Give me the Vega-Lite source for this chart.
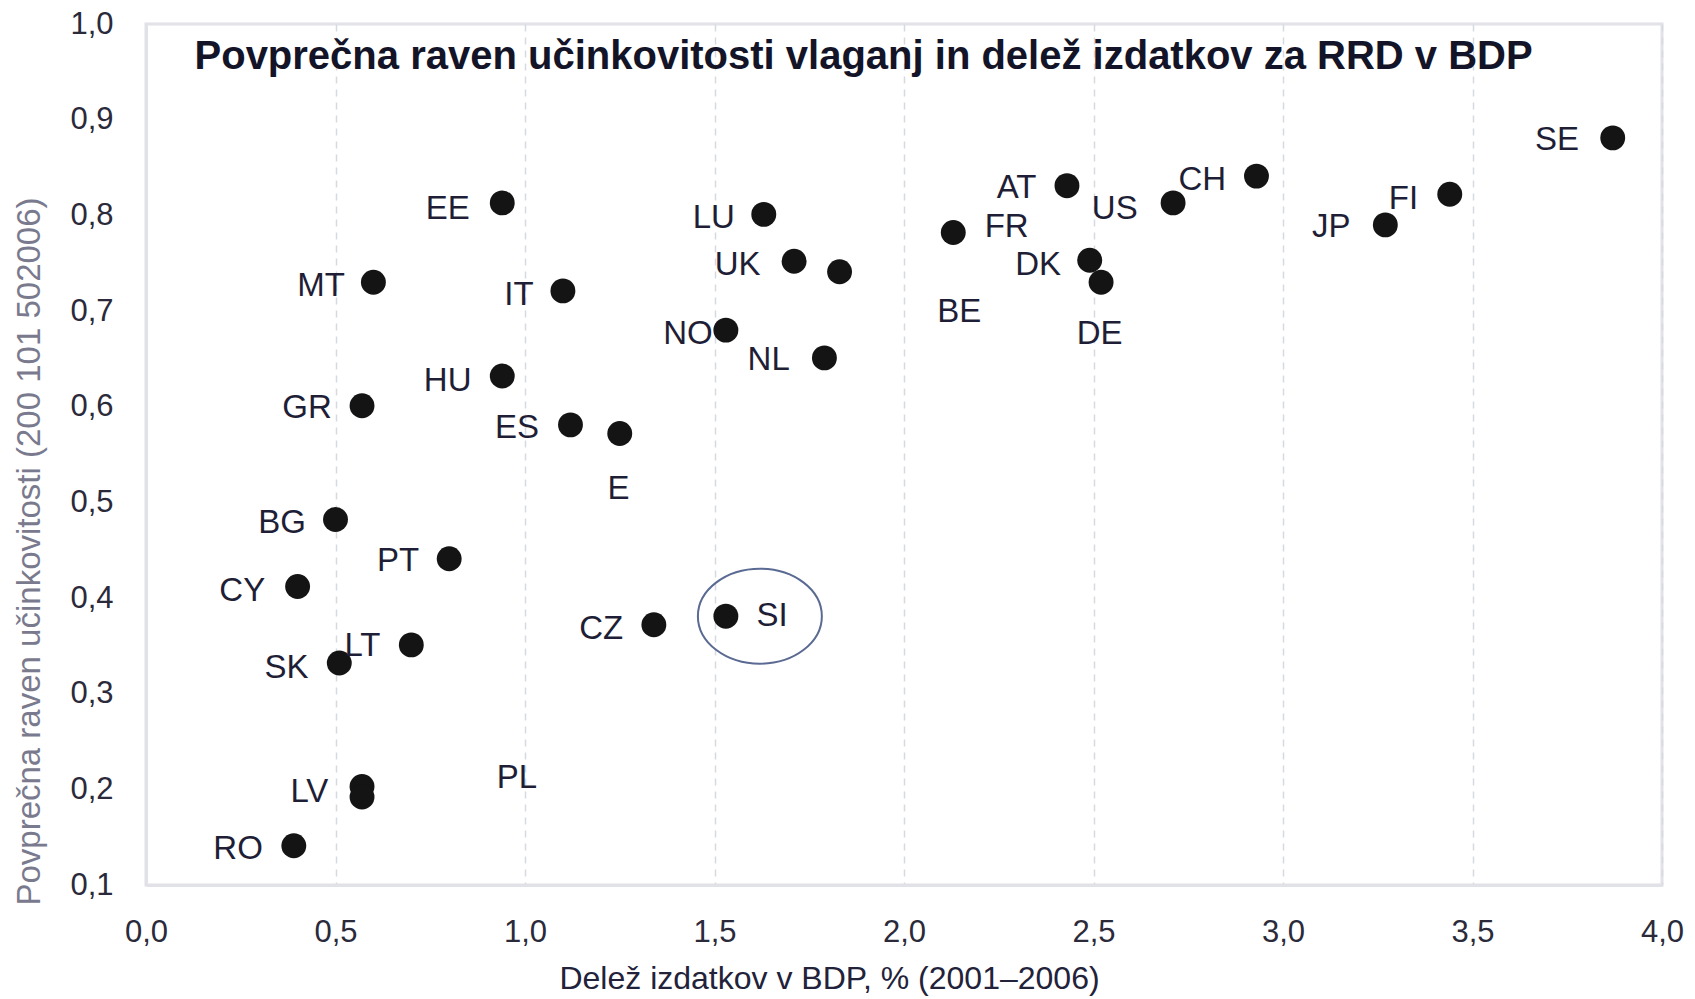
{
  "$schema": "https://vega.github.io/schema/vega-lite/v6.json",
  "width": 1516,
  "height": 861,
  "autosize": "none",
  "padding": {"left": 146, "top": 24, "right": 33, "bottom": 114},
  "background": "white",
  "config": {
    "font": "Liberation Sans",
    "view": {"stroke": "#e2e2e8", "strokeWidth": 3}
  },
  "datasets": {
    "pts": [
      {"country": "SE", "x": 3.87, "y": 0.881},
      {"country": "CH", "x": 2.93, "y": 0.841},
      {"country": "FI", "x": 3.44, "y": 0.822},
      {"country": "JP", "x": 3.27, "y": 0.790},
      {"country": "AT", "x": 2.43, "y": 0.831},
      {"country": "US", "x": 2.71, "y": 0.813},
      {"country": "FR", "x": 2.13, "y": 0.782},
      {"country": "DK", "x": 2.49, "y": 0.753},
      {"country": "DE", "x": 2.52, "y": 0.730},
      {"country": "LU", "x": 1.63, "y": 0.801},
      {"country": "UK", "x": 1.71, "y": 0.752},
      {"country": "BE", "x": 1.83, "y": 0.741},
      {"country": "NO", "x": 1.53, "y": 0.680},
      {"country": "NL", "x": 1.79, "y": 0.651},
      {"country": "EE", "x": 0.94, "y": 0.813},
      {"country": "MT", "x": 0.60, "y": 0.730},
      {"country": "IT", "x": 1.10, "y": 0.721},
      {"country": "HU", "x": 0.94, "y": 0.632},
      {"country": "GR", "x": 0.57, "y": 0.601},
      {"country": "ES", "x": 1.12, "y": 0.581},
      {"country": "IE", "x": 1.25, "y": 0.572},
      {"country": "BG", "x": 0.50, "y": 0.482},
      {"country": "PT", "x": 0.80, "y": 0.441},
      {"country": "CY", "x": 0.40, "y": 0.412},
      {"country": "CZ", "x": 1.34, "y": 0.372},
      {"country": "SI", "x": 1.53, "y": 0.381},
      {"country": "LT", "x": 0.70, "y": 0.351},
      {"country": "SK", "x": 0.51, "y": 0.332},
      {"country": "LV", "x": 0.57, "y": 0.203},
      {"country": "PL", "x": 0.57, "y": 0.192},
      {"country": "RO", "x": 0.39, "y": 0.141}
    ],
    "lbl": [
      {"label": "SE", "lx": 3.723, "ly": 0.879},
      {"label": "CH", "lx": 2.787, "ly": 0.837},
      {"label": "FI", "lx": 3.318, "ly": 0.817},
      {"label": "JP", "lx": 3.127, "ly": 0.788},
      {"label": "AT", "lx": 2.297, "ly": 0.829},
      {"label": "US", "lx": 2.556, "ly": 0.807},
      {"label": "FR", "lx": 2.271, "ly": 0.788},
      {"label": "BE", "lx": 2.146, "ly": 0.699},
      {"label": "DK", "lx": 2.354, "ly": 0.748},
      {"label": "DE", "lx": 2.516, "ly": 0.676},
      {"label": "LU", "lx": 1.498, "ly": 0.797},
      {"label": "UK", "lx": 1.561, "ly": 0.748},
      {"label": "NO", "lx": 1.43, "ly": 0.676},
      {"label": "NL", "lx": 1.643, "ly": 0.649},
      {"label": "EE", "lx": 0.796, "ly": 0.807},
      {"label": "MT", "lx": 0.462, "ly": 0.726},
      {"label": "IT", "lx": 0.984, "ly": 0.717},
      {"label": "HU", "lx": 0.796, "ly": 0.627},
      {"label": "GR", "lx": 0.425, "ly": 0.599},
      {"label": "ES", "lx": 0.979, "ly": 0.578},
      {"label": "E", "lx": 1.247, "ly": 0.514},
      {"label": "BG", "lx": 0.359, "ly": 0.478},
      {"label": "PT", "lx": 0.665, "ly": 0.439},
      {"label": "CY", "lx": 0.254, "ly": 0.407},
      {"label": "CZ", "lx": 1.201, "ly": 0.368},
      {"label": "SI", "lx": 1.652, "ly": 0.381},
      {"label": "LT", "lx": 0.571, "ly": 0.350},
      {"label": "SK", "lx": 0.371, "ly": 0.327},
      {"label": "LV", "lx": 0.431, "ly": 0.197},
      {"label": "PL", "lx": 0.979, "ly": 0.212},
      {"label": "RO", "lx": 0.243, "ly": 0.138}
    ]
  },
  "layer": [
    {
      "mark": {"type": "rule", "color": "#d4d4d4", "strokeWidth": 5},
      "encoding": {"y": {"datum": 0.6, "type": "quantitative"}}
    },
    {
      "mark": {"type": "rule", "color": "#dcdcdf", "strokeWidth": 2},
      "encoding": {"x": {"datum": 1.5, "type": "quantitative"}}
    },
    {
      "data": {"name": "pts"},
      "mark": {"type": "point", "filled": true, "shape": "circle", "size": 620, "color": "#141414", "opacity": 1},
      "encoding": {
        "x": {
          "field": "x", "type": "quantitative",
          "scale": {"domain": [0, 4], "nice": false, "zero": false},
          "axis": {
            "values": [0, 0.5, 1, 1.5, 2, 2.5, 3, 3.5, 4],
            "labelExpr": "replace(format(datum.value, '.1f'), '.', ',')",
            "grid": true, "gridColor": "#d6dae0", "gridDash": [7, 6], "gridWidth": 1.5,
            "ticks": false,
            "domainColor": "#e0e2e8", "domainWidth": 3,
            "labelFontSize": 31, "labelColor": "#2a2a3a", "labelPadding": 32,
            "labelFlush": false,
            "title": "Delež izdatkov v BDP, % (2001–2006)",
            "titleFontSize": 32, "titleFontWeight": "normal", "titleColor": "#22223a",
            "titleX": 683, "titleY": 93, "titleBaseline": "middle", "titleAnchor": null
          }
        },
        "y": {
          "field": "y", "type": "quantitative",
          "scale": {"domain": [0.1, 1.0], "nice": false, "zero": false},
          "axis": {
            "values": [0.1, 0.2, 0.3, 0.4, 0.5, 0.6, 0.7, 0.8, 0.9, 1.0],
            "labelExpr": "replace(format(datum.value, '.1f'), '.', ',')",
            "grid": false,
            "ticks": false,
            "domainColor": "#e0e2e8", "domainWidth": 3,
            "labelFontSize": 31, "labelColor": "#2a2a3a", "labelPadding": 33,
            "labelFlush": false,
            "title": "Povprečna raven učinkovitosti (200 101 502006)",
            "titleFontSize": 33, "titleFontWeight": "normal", "titleColor": "#7a7a8e",
            "titleX": -100, "titleY": 527, "titleAnchor": null, "titleAlign": "center"
          }
        }
      }
    },
    {
      "data": {"name": "pts"},
      "transform": [{"filter": "datum.country === 'SI'"}],
      "mark": {
        "type": "point",
        "shape": "M-1.305,0A1.305,1,0,1,0,1.305,0A1.305,1,0,1,0,-1.305,0",
        "size": 9025, "filled": false, "stroke": "#5a6a92", "strokeWidth": 2, "xOffset": 34, "opacity": 1
      },
      "encoding": {
        "x": {"field": "x", "type": "quantitative"},
        "y": {"field": "y", "type": "quantitative"}
      }
    },
    {
      "data": {"name": "lbl"},
      "mark": {"type": "text", "fontSize": 33, "color": "#1e1e36", "align": "center", "baseline": "middle"},
      "encoding": {
        "x": {"field": "lx", "type": "quantitative"},
        "y": {"field": "ly", "type": "quantitative"},
        "text": {"field": "label"}
      }
    },
    {
      "data": {"values": [{"t": "Povprečna raven učinkovitosti vlaganj in delež izdatkov za RRD v BDP"}]},
      "mark": {"type": "text", "fontSize": 40, "fontWeight": "bold", "color": "#141428", "align": "left", "baseline": "middle"},
      "encoding": {
        "x": {"datum": 0.128, "type": "quantitative"},
        "y": {"datum": 0.966, "type": "quantitative"},
        "text": {"field": "t"}
      }
    }
  ]
}
